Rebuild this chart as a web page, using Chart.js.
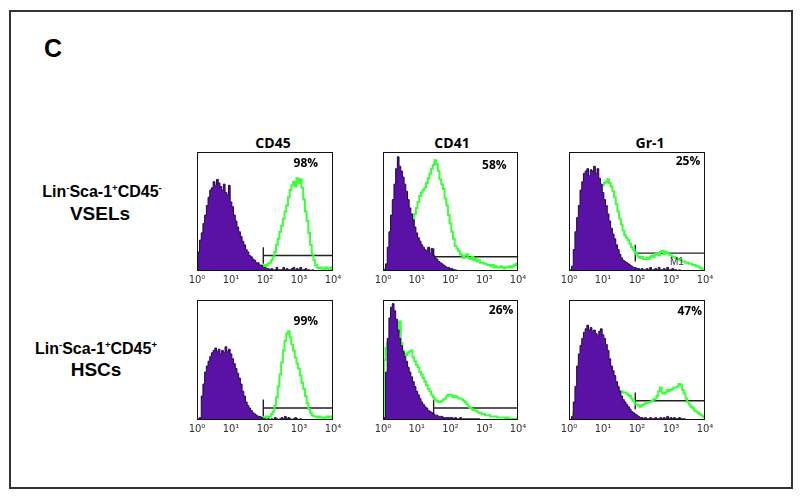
<!DOCTYPE html>
<html>
<head>
<meta charset="utf-8">
<script src="https://cdn.jsdelivr.net/npm/chart.js"></script>
<style>
  body { margin: 0; width: 800px; height: 496px; background: #fff; position: relative; overflow: hidden; font-family: "Liberation Sans", Arial, sans-serif; }
  .frame { position: absolute; left: 9px; top: 10px; width: 780px; height: 475px; border: 2px solid #333; }
  .t { position: absolute; transform: translate(-50%, -50%); white-space: nowrap; line-height: 1; font-weight: bold; color: #000; }
  .col { font-family: "Open Sans", sans-serif; font-size: 14px; }
  sup { font-size: 0.6em; vertical-align: 0.6em; line-height: 0; }
  .wrap { position: absolute; }
</style>
</head>
<body>
<div class="frame"></div>
<div class="t" style="left:53px;top:48px;font-size:25px">C</div>

<div class="t col" style="left:273px;top:143px">CD45</div>
<div class="t col" style="left:452px;top:143px">CD41</div>
<div class="t col" style="left:650px;top:143px">Gr-1</div>

<div class="t" style="left:102px;top:192px;font-size:16px">Lin<sup>-</sup>Sca-1<sup>+</sup>CD45<sup>-</sup></div>
<div class="t" style="left:100px;top:213px;font-size:19px">VSELs</div>
<div class="t" style="left:96px;top:349px;font-size:16px">Lin<sup>-</sup>Sca-1<sup>+</sup>CD45<sup>+</sup></div>
<div class="t" style="left:96px;top:369px;font-size:19px">HSCs</div>

<script>
// channels 0..80 = 10^0 .. 10^4 (20 channels per decade)
const tickLabels = ['10⁰', '10¹', '10²', '10³', '10⁴'];

// isotype control (purple) and stained (green) histograms, % of panel height
// row 1 = VSELs, row 2 = HSCs ; columns CD45, CD41, Gr-1
const ctrlA = [3,16,26,32,40,47,55,62,68,70,75,72,77,74,71,68,73,66,64,72,58,54,47,42,37,33,29,25,22,18,16,13,12,10,9,7,7,5,5,3,3,2,2,1,2,1,1,3,1,1,1,3,1,2,1,1,2,3,1,2,1,3,1,1,2,1,1,0,1,0,0,0,0,0,0,0,0,0,0,0,0];
const greenA = [1,2,1,2,1,2,3,1,2,4,2,1,2,1,2,1,2,3,4,2,1,2,1,2,3,2,1,2,3,1,2,2,3,2,3,2,4,3,4,3,5,4,6,7,9,12,16,22,27,33,38,44,50,55,62,68,72,75,71,78,74,77,70,60,50,42,32,22,14,9,5,3,2,3,2,1,3,2,1,3,2];

const ctrlB = [0,1,6,20,33,47,60,73,86,96,88,84,79,73,67,60,53,48,43,37,32,28,25,22,20,18,17,20,15,19,13,11,10,8,7,6,5,4,3,3,2,2,1,1,0,0,0,0,0,0,0,0,0,0,0,0,0,0,0,0,0,0,0,0,0,0,0,0,0,0,0,0,0,0,0,0,0,0,0,0,0];
const greenB = [0,1,2,4,5,7,9,11,13,15,18,20,22,25,27,30,33,37,42,48,53,58,63,66,68,70,74,78,82,86,89,93,90,84,77,73,69,61,55,47,40,33,27,21,19,17,14,13,11,13,14,11,10,12,9,10,8,9,7,7,6,6,5,5,4,5,3,4,3,3,4,3,2,3,3,4,3,4,5,6,5];

const ctrlC = [0,1,4,18,33,45,55,68,75,82,84,86,80,85,84,88,82,86,78,73,66,60,55,48,42,36,31,27,22,18,14,11,9,8,7,6,5,4,3,3,2,2,1,2,1,1,2,1,3,1,1,2,1,3,1,1,2,1,3,1,1,2,1,1,0,1,0,0,0,0,0,0,0,0,0,0,0,0,0,0,0];
const greenC = [0,0,0,1,2,3,5,4,7,8,9,10,12,16,24,33,44,54,62,68,72,74,75,77,74,71,67,62,56,50,44,39,34,30,28,26,23,20,18,16,14,12,11,12,10,10,11,10,12,13,12,14,15,13,16,17,14,16,15,14,13,12,12,11,10,9,9,8,8,7,7,6,6,5,5,4,4,3,2,1,1];

const ctrlD = [0,1,2,20,30,40,45,49,53,56,58,60,57,59,55,58,56,61,57,59,55,51,47,43,39,35,30,24,20,15,12,10,8,6,5,4,3,3,2,1,1,0,1,0,1,0,2,1,0,1,2,1,3,1,2,1,0,1,2,1,0,1,0,0,0,0,0,0,0,0,0,0,0,0,0,0,0,0,0,0,0];
const greenD = [0,0,0,0,0,0,0,0,0,0,0,0,0,0,0,0,0,0,0,0,0,0,0,0,0,0,0,0,0,1,1,1,0,1,1,2,1,2,1,2,2,3,2,3,5,7,12,19,28,38,48,58,66,72,74,69,63,58,52,47,43,37,31,26,20,14,9,6,4,3,3,2,3,2,2,1,2,3,2,3,2];

const ctrlE = [0,2,40,68,85,94,97,91,84,75,68,62,57,53,49,44,40,36,32,28,24,21,18,15,13,11,10,8,7,6,5,4,4,3,3,3,2,2,2,2,2,2,1,2,1,1,2,1,1,1,1,1,1,1,1,1,1,1,0,0,0,0,0,0,0,0,0,0,0,0,0,0,0,0,0,0,0,0,0,0,0];
const greenE = [0,50,60,64,65,63,66,68,70,73,82,64,58,55,54,56,57,58,52,49,46,44,40,38,35,32,29,26,24,21,19,17,16,15,15,16,17,18,20,21,21,20,19,20,19,18,18,17,16,15,13,11,10,9,8,8,7,6,6,5,5,4,4,4,3,3,3,3,2,2,2,2,2,1,2,1,1,1,1,1,1];

const ctrlF = [0,0,3,15,28,45,55,62,68,73,76,79,75,77,74,75,72,70,74,76,71,68,63,58,51,45,41,37,32,28,24,20,17,15,13,11,9,7,6,5,4,3,2,2,1,2,1,1,2,1,1,2,1,1,2,1,2,1,3,1,2,1,2,1,1,2,1,1,1,0,0,0,0,0,0,0,0,0,0,0,0];
const greenF = [0,0,1,6,14,19,23,26,28,31,28,25,24,23,25,25,27,28,30,31,33,35,41,44,42,37,33,30,28,26,24,24,23,23,22,21,20,18,16,14,13,12,11,12,13,14,14,15,15,16,17,18,20,24,27,23,22,23,25,24,25,26,27,27,28,30,29,25,22,18,15,13,11,10,8,7,6,5,4,3,2];

// marker gate: start channel and level, percent positive
const gateStart = [39, 30, 39, 39, 30, 39];
const gateLevel = [13, 12, 15, 10, 10, 16];
const percents = ['98%', '58%', '25%', '99%', '26%', '47%'];
const pctX = [64, 66, 70, 64, 70, 71];
const pctY = [90, 89, 92, 82, 91, 90];

const controls = [ctrlA, ctrlB, ctrlC, ctrlD, ctrlE, ctrlF];
const stained = [greenA, greenB, greenC, greenD, greenE, greenF];

// panel boxes on the page
const boxLeft = [197, 383, 569];
const boxRight = [333, 518, 705];
const boxTop = [152, 300];
const boxBottom = [271, 420];

Chart.defaults.font.family = '"Liberation Sans", Arial, sans-serif';
Chart.defaults.animation = false;

const panelPlugin = {
  id: 'panelBox',
  afterDatasetsDraw(chart, args, o) {
    const { ctx, chartArea: a, scales: { x, y } } = chart;
    ctx.save();
    ctx.strokeStyle = '#111';
    ctx.lineWidth = 1;
    ctx.strokeRect(Math.round(a.left) + 0.5, Math.round(a.top) + 0.5,
      Math.round(a.right - a.left) - 1, Math.round(a.bottom - a.top) - 1);
    ctx.fillStyle = '#000';
    ctx.textAlign = 'center';
    ctx.textBaseline = 'middle';
    ctx.font = 'bold 12px "Open Sans"';
    ctx.fillText(o.pct, x.getPixelForValue(o.px), y.getPixelForValue(o.py));
    if (o.mark) {
      ctx.font = '10px "Liberation Sans"';
      ctx.fillStyle = '#333';
      ctx.fillText(o.mark, x.getPixelForValue(o.mx), y.getPixelForValue(o.my));
    }
    ctx.restore();
  }
};

const toXY = arr => arr.map((v, i) => ({ x: i, y: v }));

function config(i) {
  const g = gateStart[i], lv = gateLevel[i];
  return {
    type: 'line',
    data: {
      datasets: [
        {
          data: toXY(controls[i]),
          borderColor: '#1d0b36',
          borderWidth: 1,
          backgroundColor: '#5a12a6',
          fill: 'origin',
          stepped: 'middle',
          pointRadius: 0
        },
        {
          data: toXY(stained[i]),
          borderColor: '#3cff3c',
          borderWidth: 2,
          fill: false,
          stepped: 'middle',
          pointRadius: 0
        },
        {
          data: [{ x: g, y: lv + 7 }, { x: g, y: lv - 7 }, { x: g, y: lv }, { x: 80, y: lv }, { x: 80, y: lv + 7 }, { x: 80, y: lv - 7 }],
          borderColor: '#222',
          borderWidth: 1.4,
          fill: false,
          pointRadius: 0
        }
      ]
    },
    options: {
      responsive: false,
      maintainAspectRatio: false,
      layout: { padding: { left: 16, right: 16, top: 4, bottom: 2 } },
      plugins: {
        legend: { display: false },
        tooltip: { enabled: false },
        panelBox: { pct: percents[i], px: pctX[i], py: pctY[i],
          mark: i === 2 ? 'M1' : '', mx: 63.5, my: 7 }
      },
      scales: {
        x: {
          type: 'linear', min: 0, max: 80,
          grid: { display: false, drawTicks: false },
          border: { display: false },
          ticks: {
            stepSize: 20, autoSkip: false, maxRotation: 0, padding: 3,
            color: '#333', font: { size: 10, family: '"DejaVu Sans"' },
            callback: v => tickLabels[v / 20]
          }
        },
        y: { display: false, min: 0, max: 100 }
      }
    },
    plugins: [panelPlugin]
  };
}

for (let i = 0; i < 6; i++) {
  const row = i < 3 ? 0 : 1, col = i % 3;
  const bw = boxRight[col] - boxLeft[col];
  const bh = boxBottom[row] - boxTop[row];
  const wrap = document.createElement('div');
  wrap.className = 'wrap';
  const canvas = document.createElement('canvas');
  canvas.width = bw + 32;
  canvas.height = bh + 24;
  wrap.appendChild(canvas);
  document.body.appendChild(wrap);

  let chart = new Chart(canvas, config(i));
  const diff = bh - (chart.chartArea.bottom - chart.chartArea.top);
  if (Math.abs(diff) > 0.01) {
    chart.destroy();
    canvas.width = bw + 32;
    canvas.height = Math.round(bh + 24 + diff);
    chart = new Chart(canvas, config(i));
  }
  wrap.style.left = (boxLeft[col] - 16) + 'px';
  wrap.style.top = (boxTop[row] - chart.chartArea.top) + 'px';
}
</script>
</body>
</html>
